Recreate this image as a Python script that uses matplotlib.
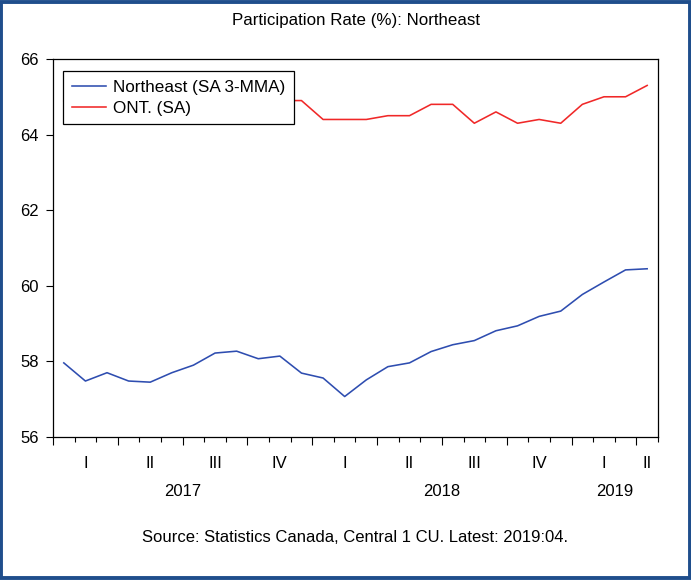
#!/usr/bin/env python3
"""Participation rate chart: Northeast vs Ontario, monthly 2017-2019."""

import matplotlib

matplotlib.use("Agg")
import matplotlib.pyplot as plt
import matplotlib.transforms as mtransforms
from matplotlib.patches import Rectangle

plt.rcParams["font.family"] = ["Liberation Sans", "DejaVu Sans"]

# monthly series, 2017:01 .. 2019:04
months = [f"{y}:{m:02d}" for y in (2017, 2018, 2019) for m in range(1, 13)][:28]
northeast = [57.96, 57.48, 57.70, 57.48, 57.45, 57.70, 57.90, 58.22, 58.27, 58.07,
             58.14, 57.69, 57.56, 57.07, 57.51, 57.86, 57.96, 58.26, 58.44, 58.55,
             58.81, 58.94, 59.19, 59.33, 59.77, 60.10, 60.42, 60.45]
ontario = [64.9, 64.8, 64.8, 64.9, 64.8, 64.7, 64.7, 64.9, 64.8, 64.9,
           64.9, 64.9, 64.4, 64.4, 64.4, 64.5, 64.5, 64.8, 64.8, 64.3,
           64.6, 64.3, 64.4, 64.3, 64.8, 65.0, 65.0, 65.3]
quarter_labels = ["I", "II", "III", "IV", "I", "II", "III", "IV", "I", "II"]
years = ["2017", "2018", "2019"]
y_ticks = [56, 58, 60, 62, 64, 66]

BLUE = "#2E4DB0"
RED = "#F02828"

fig = plt.figure(figsize=(6.91, 5.80), dpi=100)
ax = fig.add_axes([0.0767, 0.2466, 0.8755, 0.6517])

n = len(months)
x = [i + 0.5 for i in range(n)]
ax.plot(x, northeast, color=BLUE, lw=1.15, label="Northeast (SA 3-MMA)")
ax.plot(x, ontario, color=RED, lw=1.15, label="ONT. (SA)")

ax.set_xlim(0, n)
ax.set_ylim(56, 66)
ax.set_yticks(y_ticks)
ax.tick_params(axis="y", direction="out", length=5, width=0.8, pad=5, labelsize=12)

# month ticks (minor) and quarter ticks (major), labels drawn separately
ax.set_xticks(range(0, n + 1, 3))
ax.set_xticks(range(0, n + 1), minor=True)
ax.set_xticklabels([])
ax.tick_params(axis="x", which="major", direction="out", length=6, width=0.8)
ax.tick_params(axis="x", which="minor", direction="out", length=3.5, width=0.8)
for s in ax.spines.values():
    s.set_linewidth(0.9)

trans = mtransforms.blended_transform_factory(ax.transData, fig.transFigure)
for q, lab in enumerate(quarter_labels):
    start = q * 3
    end = min(start + 3, n)
    ax.text((start + end) / 2, 1 - 463 / 580, lab, transform=trans,
            ha="center", va="center", fontsize=12)
for k, yr in enumerate(years):
    start = k * 12
    end = min(start + 12, n)
    ax.text((start + end) / 2, 1 - 492 / 580, yr, transform=trans,
            ha="center", va="center", fontsize=12)

leg = ax.legend(loc="upper left", bbox_to_anchor=(0.0165, 0.968), borderaxespad=0,
                fontsize=12.3, frameon=True, fancybox=False, framealpha=1,
                edgecolor="black", handlelength=2.0, handletextpad=0.45,
                labelspacing=0.35, borderpad=0.5)
leg.get_frame().set_linewidth(0.9)
leg.set_zorder(5)

fig.text(0.5145, 1 - 20 / 580, "Participation Rate (%): Northeast",
         ha="center", va="center", fontsize=12.2)
fig.text(0.514, 1 - 537 / 580, "Source: Statistics Canada, Central 1 CU. Latest: 2019:04.",
         ha="center", va="center", fontsize=12)

fig.patches.append(Rectangle((0.002, 0.003), 0.996, 0.994, transform=fig.transFigure,
                             fill=False, edgecolor="#1F4E8C", lw=2.8))

fig.savefig("out.png", dpi=100)
